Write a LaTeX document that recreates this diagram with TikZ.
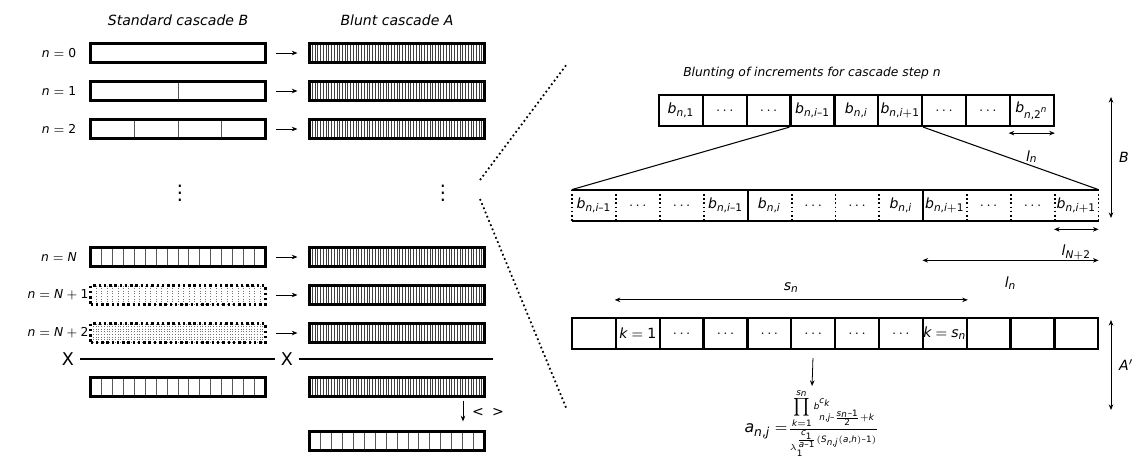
\documentclass[tikz,border=0pt]{standalone}
\usepackage{fontspec}
\setmainfont{DejaVu Sans}
\usepackage[italic]{mathastext}
\DeclareSymbolFont{sfdigits}{TU}{\familydefault}{m}{n}
\AtBeginDocument{%
\Umathcode`0=0 \symsfdigits `0
\Umathcode`1=0 \symsfdigits `1
\Umathcode`2=0 \symsfdigits `2
\Umathcode`3=0 \symsfdigits `3
\Umathcode`4=0 \symsfdigits `4
\Umathcode`5=0 \symsfdigits `5
\Umathcode`6=0 \symsfdigits `6
\Umathcode`7=0 \symsfdigits `7
\Umathcode`8=0 \symsfdigits `8
\Umathcode`9=0 \symsfdigits `9}
\usetikzlibrary{positioning,calc,arrows.meta}

\begin{document}
\begin{tikzpicture}[x=0.02cm, y=-0.02cm, font=\fontsize{8}{9.5}\selectfont,
    >={Stealth[length=3.2pt,width=2.6pt]},
    bar/.style={draw, line width=1.3pt, minimum width=3.5cm, minimum height=0.38cm, inner sep=0pt},
    dbar/.style={bar, dash pattern=on 1.4pt off 1.6pt, line width=1.5pt},
    cell/.style={draw, line width=1.3pt, minimum width=0.877cm, minimum height=0.62cm, inner sep=0pt},
    mcell/.style={minimum width=0.877cm, minimum height=0.62cm, inner sep=0pt},
    rowlabel/.style={font=\fontsize{7}{8}\selectfont},
    sepline/.style={black!65, line width=0.5pt},
    dsepline/.style={black!55, line width=0.4pt, dash pattern=on 0.6pt off 0.9pt},
    hatch/.style={black!75, line width=0.35pt},
    split/.style={path picture={
        \pgfmathtruncatemacro\lastk{#1-1}
        \foreach \k in {1,...,\lastk}
          \draw[sepline] ($(path picture bounding box.north west)!\k/#1!(path picture bounding box.north east)$)
            -- ($(path picture bounding box.south west)!\k/#1!(path picture bounding box.south east)$);}},
    dsplit/.style={path picture={
        \pgfmathtruncatemacro\lastk{#1-1}
        \foreach \k in {1,...,\lastk}
          \draw[dsepline] ($(path picture bounding box.north west)!\k/#1!(path picture bounding box.north east)$)
            -- ($(path picture bounding box.south west)!\k/#1!(path picture bounding box.south east)$);}},
    blunt/.style={path picture={
        \foreach \k in {1,...,63}
          \draw[hatch] ($(path picture bounding box.north west)!\k/64!(path picture bounding box.north east)$)
            -- ($(path picture bounding box.south west)!\k/64!(path picture bounding box.south east)$);}},
    dimarrow/.style={<->, line width=0.45pt},
    step arrow/.style={->, line width=0.45pt},
    zoomline/.style={line width=1pt, dash pattern=on 1pt off 1.6pt}]
\useasboundingbox (0,0) rectangle (1132,473);

% left half: standard and blunt cascades
\node at (178,20) {\itshape Standard cascade B};
\node at (397,20) {\itshape Blunt cascade A};

\node[bar] (b0) at (178,53) {};
\node[bar, split=2] (b1) at (178,91) {};
\node[bar, split=4] (b2) at (178,129) {};
\node[bar, split=16] (bN) at (178,257) {};
\node[dbar, dsplit=32] (bN1) at (178,295) {};
\node[dbar, dsplit=64] (bN2) at (178,333) {};
\node[bar, split=16] (bX) at (178,387) {};

\foreach \nm/\yy in {a0/53, a1/91, a2/129, aN/257, aN1/295, aN2/333, aX/387}
  \node[bar, blunt] (\nm) at (397,\yy) {};
\node[bar, split=16] (aY) at (397,441) {};

\node[rowlabel] (l0) at (59,53) {$n=0$};
\node[rowlabel] (l1) at (59,91) {$n=1$};
\node[rowlabel] (l2) at (59,129) {$n=2$};
\node[rowlabel] (lN) at (59,257) {$n=N$};
\node[rowlabel] (lN1) at (58,295) {$n=N+1$};
\node[rowlabel] (lN2) at (58,333) {$n=N+2$};

\foreach \from/\to in {b0/a0, b1/a1, b2/a2, bN/aN, bN1/aN1, bN2/aN2}
  \draw[step arrow, shorten <=0.18cm, shorten >=0.22cm] (\from) -- (\to);

\node (vd1) at (180,188) {\fontsize{11}{11}\selectfont$\vdots$};
\node (vd2) at (443,188) {\fontsize{11}{11}\selectfont$\vdots$};

\node[font=\fontsize{10}{10}\selectfont] (x1) at (68,359) {X};
\node[font=\fontsize{10}{10}\selectfont] (x2) at (287,359) {X};
\coordinate (xe) at (493,359);
\draw[line width=0.6pt] (x1.east) -- (x2.west);
\draw[line width=0.6pt] (x2.east) -- (xe);

\draw[step arrow] ([xshift=1.32cm, yshift=-0.06cm]aX.south) -- ([xshift=1.32cm, yshift=0.18cm]aY.north);
\node (cmp) at (488,412) {<\hspace{0.6em}>};

% zoom lines
\coordinate (z1) at (480,180);
\coordinate (z2) at (567,64);
\coordinate (z3) at (480,199);
\coordinate (z4) at (567,410);
\draw[zoomline] (z1) -- (z2);
\draw[zoomline] (z3) -- (z4);

% right half: one cascade step
\node[font=\fontsize{7}{8}\selectfont] at (812,73) {\itshape Blunting of increments for cascade step n};

\foreach \k/\txt in {1/{$b_{n,1}$}, 2/{$\dots$}, 3/{$\dots$}, 4/{$b_{n,i-1}$}, 5/{$b_{n,i}$},
                     6/{$b_{n,i+1}$}, 7/{$\dots$}, 8/{$\dots$}, 9/{$b_{n,2^n}$}}
  \node[cell] (t\k) at (659+43.85*\k-21.9,110.5) {\txt};

\foreach \k/\txt in {1/{$b_{n,i-1}$}, 2/{$\dots$}, 3/{$\dots$}, 4/{$b_{n,i-1}$},
                     5/{$b_{n,i}$}, 6/{$\dots$}, 7/{$\dots$}, 8/{$b_{n,i}$},
                     9/{$b_{n,i+1}$}, 10/{$\dots$}, 11/{$\dots$}, 12/{$b_{n,i+1}$}}
  \node[mcell] (m\k) at (572+43.85*\k-21.9,205.5) {\txt};
\draw[line width=1.3pt] (m1.north west) -- (m12.north east);
\draw[line width=1.3pt] (m1.south west) -- (m12.south east);
\draw[line width=1.1pt] (m4.north east) -- (m4.south east);
\draw[line width=1.1pt] (m8.north east) -- (m8.south east);
\draw[line width=1pt, dash pattern=on 1pt off 1.4pt] (m1.north west) -- (m1.south west);
\foreach \k in {1,2,3,5,6,7,9,10,11,12}
  \draw[line width=1pt, dash pattern=on 1pt off 1.4pt] (m\k.north east) -- (m\k.south east);

\draw[line width=0.6pt] (t4.south west) -- (m1.north west);
\draw[line width=0.6pt] (t6.south east) -- (m12.north east);

\foreach \k/\txt in {1/{}, 2/{$k=1$}, 3/{$\dots$}, 4/{$\dots$}, 5/{$\dots$}, 6/{$\dots$},
                     7/{$\dots$}, 8/{$\dots$}, 9/{$k=s_n$}, 10/{}, 11/{}, 12/{}}
  \node[cell] (a\k) at (572+43.85*\k-21.9,333.5) {\txt};

\draw[dimarrow] ([yshift=-0.12cm]t9.south west) -- ([yshift=-0.12cm]t9.south east)
  node[midway, below=0.22cm] {$l_n$};
\draw[dimarrow] ([yshift=-0.16cm]m12.south west) -- ([yshift=-0.16cm]m12.south east)
  node[midway, below=0.18cm] {$l_{N+2}$};
\draw[dimarrow] ([yshift=-0.78cm]m9.south west) -- ([yshift=-0.78cm]m12.south east)
  node[midway, below=0.2cm] {$l_n$};
\draw[dimarrow] ([yshift=0.34cm]a2.north west) -- ([yshift=0.34cm]a9.north east)
  node[midway, above=0.02cm] {$s_n$};

\node[anchor=north, inner sep=0pt] (form) at (812,388)
  {{\fontsize{9}{9}\selectfont$a_{n,j}=$}{\fontsize{6}{6}\selectfont
   $\frac{\prod\limits_{k=1}^{s_n} b_{n,j-\frac{s_n-1}{2}+k}^{c_k}}{\lambda_1^{\frac{c_1}{a-1}(S_{n,j}(a,h)-1)}}$}};
\draw[step arrow, shorten <=0.16cm, shorten >=0.04cm] (a6.south) -- (form.north);

\coordinate (bt) at (1111,97);
\coordinate (bb) at (1111,218);
\coordinate (at) at (1111,320);
\coordinate (ab) at (1111,410);
\draw[dimarrow] (bt) -- (bb) node[midway, right=1pt] {$B$};
\draw[dimarrow] (at) -- (ab) node[midway, right=1pt] {$A'$};
\end{tikzpicture}
\end{document}
